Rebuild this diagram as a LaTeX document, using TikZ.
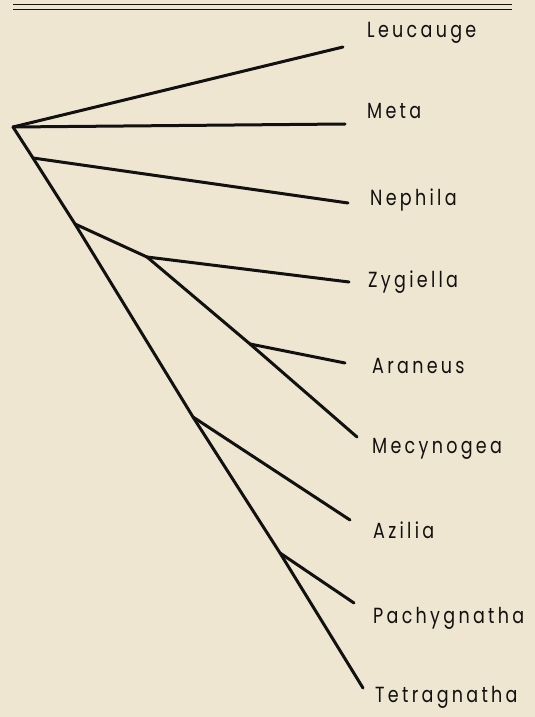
\documentclass[tikz,border=0pt]{standalone}
\usepackage{fontspec}
\newfontfamily\taxonfont[LetterSpace=15,FakeStretch=0.8]{Poppins}
\usetikzlibrary{positioning}
\definecolor{paper}{HTML}{EEE6D0}
\definecolor{ink}{HTML}{111111}
\tikzset{
  branch/.style={ink,line width=3bp,line cap=round,line join=round},
  taxon/.style={anchor=base west,inner sep=0pt,text=ink,font=\taxonfont\fontsize{22}{22}\selectfont},
}

\begin{document}
\begin{tikzpicture}[x=1bp,y=-1bp]
  \fill[paper] (0,0) rectangle (535,717);
  \useasboundingbox (0,0) rectangle (535,717);
  % double rule at the top
  \draw[ink,line width=0.9bp] (13,4.6) -- (512,4.6);
  \draw[ink,line width=0.9bp] (13,9.3) -- (512,9.3);

  % inner nodes
  \coordinate (root) at (13,127);
  \coordinate (n1) at (33,158);
  \coordinate (n2) at (75,224);
  \coordinate (z1) at (147,257);
  \coordinate (a1) at (250,344);
  \coordinate (n3) at (193,417);
  \coordinate (n4) at (280,553);

  % tips and names
  \foreach \name/\tx/\ty/\lx/\ly in {Leucauge/343/47/367/38, Meta/345/124/367/119,
      Nephila/348/203/370/205, Zygiella/349/282/368/287, Araneus/345/363/372/373,
      Mecynogea/357/437/372/453, Azilia/350/520/373/538, Pachygnatha/354/603/373/623,
      Tetragnatha/363/688/375/702} {
    \coordinate (\name-tip) at (\tx,\ty);
    \node[taxon] (\name) at (\lx,\ly) {\name};
  }

  % branches
  \draw[branch] (root) -- (n1) -- (n2) -- (n3) -- (n4) -- (Tetragnatha-tip);
  \draw[branch] (n2) -- (z1) -- (a1) -- (Mecynogea-tip);
  \foreach \from/\to in {root/Leucauge, root/Meta, n1/Nephila, z1/Zygiella,
      a1/Araneus, n3/Azilia, n4/Pachygnatha} {
    \draw[branch] (\from) -- (\to-tip);
  }
\end{tikzpicture}
\end{document}
